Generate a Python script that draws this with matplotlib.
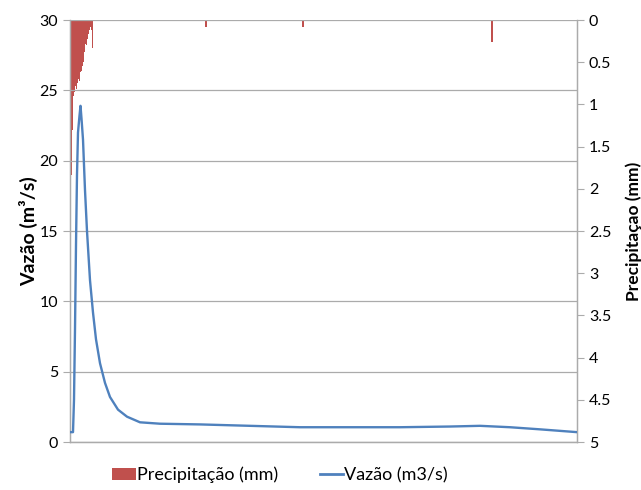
import matplotlib
matplotlib.use("Agg")
import matplotlib.pyplot as plt
from matplotlib.patches import Patch
from matplotlib.lines import Line2D

plt.rcParams['font.family'] = ['Lato', 'DejaVu Sans']

# Flow hydrograph (time step, m3/s)
flow_t = [0.5, 3, 4, 5, 6, 7, 8, 9.5, 10.5, 11.5, 13, 15, 17, 20, 23, 26, 30, 35, 40, 48,
          57, 70, 90, 130, 180, 230, 280, 330, 380, 410, 440, 470, 507]
flow_q = [0.7, 0.7, 3, 8, 14, 19, 22, 23.2, 23.9, 23.0, 21.5, 17.9, 15, 11.5, 9.2, 7.3, 5.6, 4.2, 3.2, 2.3,
          1.8, 1.4, 1.3, 1.25, 1.15, 1.05, 1.05, 1.05, 1.1, 1.15, 1.05, 0.9, 0.7]

# Precipitation (time step, mm)
rain_t = [1.2, 2.2, 3.2, 4.2, 5.2, 6.2, 7.2, 8.2, 9.2, 10.2, 11.2, 12.2, 13.2, 14.2, 15.2, 16.2,
          17.2, 18.2, 19.2, 20.2, 21.2, 22.2, 136, 233, 422]
rain_p = [1.84, 1.3, 0.9, 0.85, 0.78, 0.82, 0.75, 0.7, 0.72, 0.62, 0.6, 0.55, 0.5, 0.38, 0.28, 0.3,
          0.22, 0.16, 0.12, 0.08, 0.12, 0.33, 0.08, 0.08, 0.26]

left_ticks = [0, 5, 10, 15, 20, 25, 30]
right_ticks = [0, 0.5, 1, 1.5, 2, 2.5, 3, 3.5, 4, 4.5, 5]
right_labels = ['0', '0.5', '1', '1.5', '2', '2.5', '3', '3.5', '4', '4.5', '5']

red = '#C0504D'
blue = '#4F81BD'
grid_c = '#ABABAB'

fig = plt.figure(figsize=(6.41, 4.90), dpi=100)
ax1 = fig.add_axes([70/641, 1-442/490, 507/641, 422/490])
ax2 = ax1.twinx()

ax1.set_zorder(2)
ax1.patch.set_visible(False)

ax1.plot(flow_t, flow_q, color=blue, lw=1.7, zorder=3)
ax2.bar(rain_t, rain_p, width=1.05, color=red, align='center', linewidth=0)

ax1.set_xlim(0, 507)
ax1.set_ylim(0, 30)
ax1.set_yticks(left_ticks)
ax1.set_xticks([])
ax1.yaxis.grid(True, color=grid_c, lw=0.9)
ax1.set_axisbelow(True)

ax2.set_ylim(5, 0)
ax2.set_yticks(right_ticks)
ax2.set_yticklabels(right_labels)

for ax in (ax1, ax2):
    for s in ax.spines.values():
        s.set_color(grid_c)
        s.set_linewidth(0.9)
    ax.spines['top'].set_visible(False)
    ax.tick_params(axis='y', colors=grid_c, labelcolor='black', labelsize=11.5, length=5, width=0.8)

ax1.set_ylabel('Vazão (m³/s)', fontsize=14, fontweight='bold', labelpad=1)
ax2.set_ylabel('Precipitaçao (mm)', fontsize=12.5, fontweight='bold', labelpad=10)

handles = [Patch(facecolor=red, edgecolor='none'),
           Line2D([0], [0], color=blue, lw=2)]
fig.legend(handles, ['Precipitação (mm)', 'Vazão (m3/s)'], loc='center',
           bbox_to_anchor=(280/641, 1-475/490), ncol=2, frameon=False, fontsize=13,
           handlelength=1.3, handletextpad=0.05, columnspacing=2.3)

fig.savefig('out.png', dpi=100)
